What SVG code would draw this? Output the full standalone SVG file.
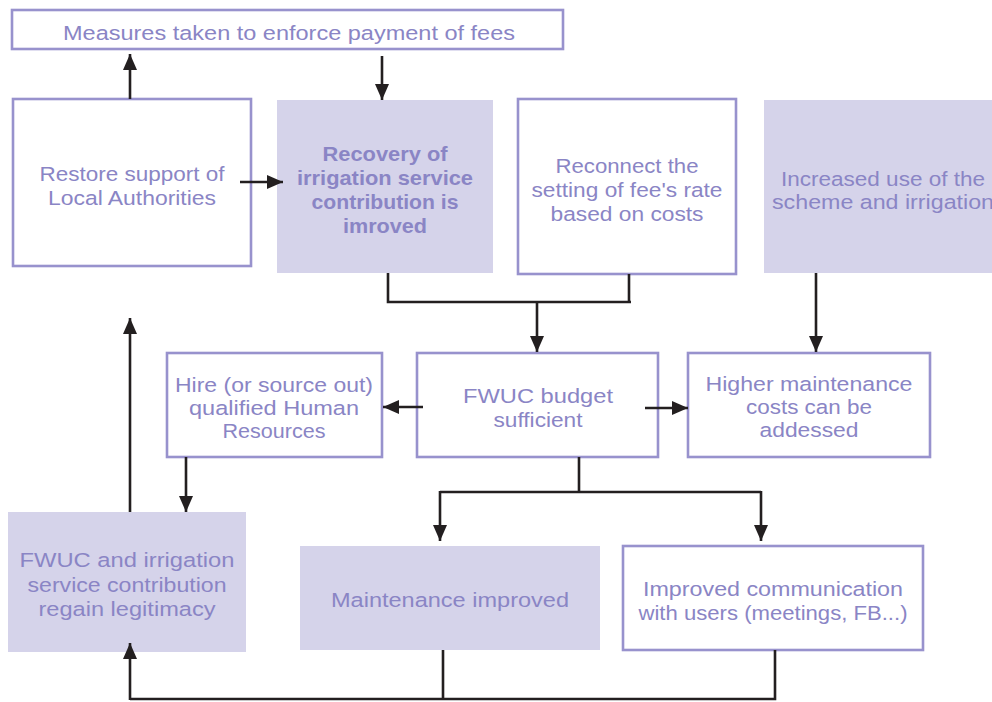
<svg xmlns="http://www.w3.org/2000/svg" width="992" height="702" viewBox="0 0 992 702">
<defs>
<style>
.box{fill:#ffffff;stroke:#9892cd;stroke-width:2.6}
.fill{fill:#d5d3ea;stroke:none}
text{font-family:"Liberation Sans",Arial,sans-serif;font-size:20.5px;fill:#8a85c5;text-anchor:middle}
.b{font-weight:bold}
.c{fill:none;stroke:#231f20;stroke-width:2.6}
.a{marker-end:url(#ah)}
</style>
<marker id="ah" markerUnits="userSpaceOnUse" markerWidth="17" markerHeight="15" refX="16" refY="7" orient="auto">
<path d="M0,0 L16,7 L0,14 z" fill="#231f20"/>
</marker>
</defs>
<rect width="992" height="702" fill="#ffffff"/>

<g id="measures">
<rect class="box" x="12" y="10" width="551" height="39"/>
<text x="289" y="40" textLength="452" lengthAdjust="spacingAndGlyphs">Measures taken to enforce payment of fees</text>
</g>
<g id="restore">
<rect class="box" x="13" y="99" width="238" height="167"/>
<text x="132" y="181" textLength="185" lengthAdjust="spacingAndGlyphs">Restore support of</text>
<text x="132" y="205" textLength="168" lengthAdjust="spacingAndGlyphs">Local Authorities</text>
</g>
<g id="recovery">
<rect class="fill" x="277" y="100" width="216" height="173"/>
<text class="b" x="385" y="161" textLength="125" lengthAdjust="spacingAndGlyphs">Recovery of</text>
<text class="b" x="385" y="185" textLength="176" lengthAdjust="spacingAndGlyphs">irrigation service</text>
<text class="b" x="385" y="209" textLength="147" lengthAdjust="spacingAndGlyphs">contribution is</text>
<text class="b" x="385" y="233" textLength="84" lengthAdjust="spacingAndGlyphs">imroved</text>
</g>
<g id="reconnect">
<rect class="box" x="518" y="99" width="218" height="175"/>
<text x="627" y="173" textLength="143" lengthAdjust="spacingAndGlyphs">Reconnect the</text>
<text x="627" y="197" textLength="191" lengthAdjust="spacingAndGlyphs">setting of fee's rate</text>
<text x="627" y="221" textLength="153" lengthAdjust="spacingAndGlyphs">based on costs</text>
</g>
<g id="increased">
<rect class="fill" x="764" y="100" width="240" height="173"/>
<text x="883" y="186" textLength="204" lengthAdjust="spacingAndGlyphs">Increased use of the</text>
<text x="883" y="209" textLength="222" lengthAdjust="spacingAndGlyphs">scheme and irrigation</text>
</g>
<g id="hire">
<rect class="box" x="167" y="353" width="215" height="104"/>
<text x="274" y="392" textLength="198" lengthAdjust="spacingAndGlyphs">Hire (or source out)</text>
<text x="274" y="415" textLength="170" lengthAdjust="spacingAndGlyphs">qualified Human</text>
<text x="274" y="438" textLength="103" lengthAdjust="spacingAndGlyphs">Resources</text>
</g>
<g id="budget">
<rect class="box" x="417" y="353" width="241" height="104"/>
<text x="538" y="403" textLength="150" lengthAdjust="spacingAndGlyphs">FWUC budget</text>
<text x="538" y="427" textLength="89" lengthAdjust="spacingAndGlyphs">sufficient</text>
</g>
<g id="higher">
<rect class="box" x="688" y="353" width="242" height="104"/>
<text x="809" y="391" textLength="207" lengthAdjust="spacingAndGlyphs">Higher maintenance</text>
<text x="809" y="414" textLength="126" lengthAdjust="spacingAndGlyphs">costs can be</text>
<text x="809" y="437" textLength="99" lengthAdjust="spacingAndGlyphs">addessed</text>
</g>
<g id="legitimacy">
<rect class="fill" x="8" y="512" width="238" height="140"/>
<text x="127" y="567" textLength="215" lengthAdjust="spacingAndGlyphs">FWUC and irrigation</text>
<text x="127" y="592" textLength="199" lengthAdjust="spacingAndGlyphs">service contribution</text>
<text x="127" y="616" textLength="177" lengthAdjust="spacingAndGlyphs">regain legitimacy</text>
</g>
<g id="maintenance">
<rect class="fill" x="300" y="546" width="300" height="104"/>
<text x="450" y="607" textLength="238" lengthAdjust="spacingAndGlyphs">Maintenance improved</text>
</g>
<g id="communication">
<rect class="box" x="623" y="546" width="300" height="104"/>
<text x="773" y="596" textLength="260" lengthAdjust="spacingAndGlyphs">Improved communication</text>
<text x="773" y="620" textLength="269" lengthAdjust="spacingAndGlyphs">with users (meetings, FB...)</text>
</g>

<g id="connectors">
<path class="c a" d="M130,99 V54"/>
<path class="c a" d="M382,56 V100"/>
<path class="c a" d="M240,182 H283"/>
<path class="c" d="M388,273 V302 H631 M629,274 V302"/>
<path class="c a" d="M537,302 V352"/>
<path class="c a" d="M816,273 V352"/>
<path class="c a" d="M423,407 H383"/>
<path class="c a" d="M645,408 H688"/>
<path class="c" d="M579,457 V492 M440,492 H761"/>
<path class="c a" d="M440,491 V541"/>
<path class="c a" d="M761,491 V541"/>
<path class="c a" d="M186,457 V512"/>
<path class="c a" d="M130,512 V318"/>
<path class="c" d="M443,650 V699 M775,650 V699 H130"/>
<path class="c a" d="M130,700 V643"/>
</g>
</svg>
